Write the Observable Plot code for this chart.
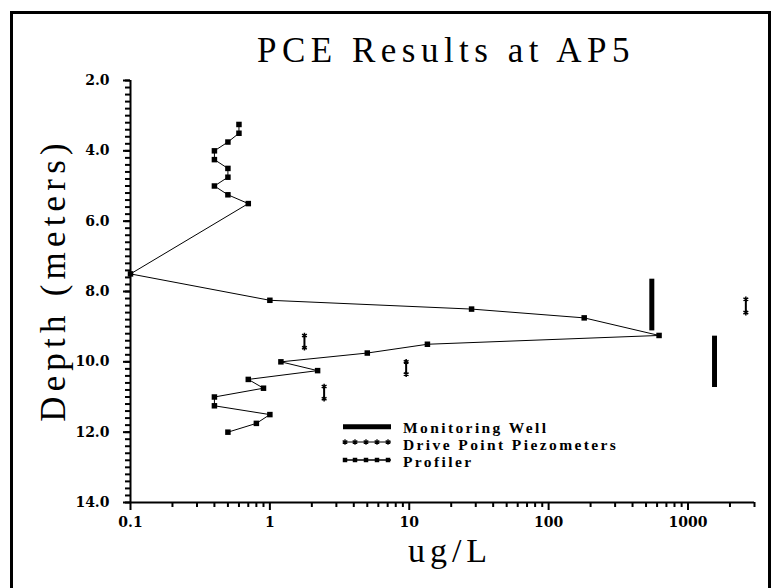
<!DOCTYPE html>
<html>
<head>
<meta charset="utf-8">
<script src="https://cdn.jsdelivr.net/npm/d3@7"></script>
<script src="https://cdn.jsdelivr.net/npm/@observablehq/plot@0.6"></script>
<style>
  html, body { margin: 0; padding: 0; background: #fff; }
  body { width: 773px; height: 588px; overflow: hidden; position: relative; }
  #frame { position: absolute; left: 10px; top: 11px; width: 761px; height: 620px; border: 3px solid #000; box-sizing: border-box; }
  #chart { position: absolute; left: 0; top: 0; }
</style>
</head>
<body>
<div id="frame"></div>
<div id="chart"></div>
<script>
// ---- Data ----
const profilerDepth = [3.25, 3.5, 3.75, 4.0, 4.25, 4.5, 4.75, 5.0, 5.25, 5.5, 7.5, 8.25, 8.5, 8.75, 9.25, 9.5, 9.75, 10.0, 10.25, 10.5, 10.75, 11.0, 11.25, 11.5, 11.75, 12.0];
const profilerConc  = [0.6, 0.6, 0.5, 0.4, 0.4, 0.5, 0.5, 0.4, 0.5, 0.7, 0.1, 1.0, 28, 180, 620, 13.5, 5, 1.2, 2.2, 0.7, 0.9, 0.4, 0.4, 1.0, 0.8, 0.5];

const piezoConc   = [1.77, 9.5, 2.45, 2600];
const piezoTop    = [9.25, 10.0, 10.7, 8.22];
const piezoBottom = [9.6, 10.35, 11.05, 8.6];

const wellConc   = [550, 1550];
const wellTop    = [7.65, 9.27];
const wellBottom = [9.12, 10.73];

const yTicks = [2, 4, 6, 8, 10, 12, 14];
const yTickLabels = ["2.0", "4.0", "6.0", "8.0", "10.0", "12.0", "14.0"];
const xTicks = [0.1, 1, 10, 100, 1000];
const xTickLabels = ["0.1", "1", "10", "100", "1000"];
const xMinorTicks = [0.2,0.3,0.4,0.5,0.6,0.7,0.8,0.9, 2,3,4,5,6,7,8,9, 20,30,40,50,60,70,80,90, 200,300,400,500,600,700,800,900, 2000,3000];
const yMinorTicks = d3.range(0, 61).map(i => 2 + i * 0.2);

const titleText = "PCE Results at AP5";
const xLabel = "ug/L";
const yLabel = "Depth (meters)";
const legendLabels = ["Monitoring Well", "Drive Point Piezometers", "Profiler"];

// ---- Tables ----
const profiler = profilerDepth.map((d, i) => ({depth: d, conc: profilerConc[i]}));
const piezo = piezoConc.map((c, i) => ({conc: c, top: piezoTop[i], bottom: piezoBottom[i]}));
const wells = wellConc.map((c, i) => ({conc: c, top: wellTop[i], bottom: wellBottom[i]}));

const tickFont = '"DejaVu Serif", serif';

const chart = Plot.plot({
  width: 773,
  height: 588,
  marginLeft: 130,
  marginRight: 19,
  marginTop: 80,
  marginBottom: 86,
  style: {background: "transparent", fontFamily: '"Liberation Serif", serif', color: "#000"},
  x: {type: "log", domain: [0.1, 3000], axis: null},
  y: {domain: [2, 14], reverse: true, axis: null},
  marks: [
    Plot.axisY(yMinorTicks, {tickSize: 5, strokeWidth: 2, tickFormat: () => "", label: null}),
    Plot.axisY(yTicks, {tickSize: 7, strokeWidth: 2, tickPadding: 14, tickFormat: d => yTickLabels[yTicks.indexOf(d)], label: null,
      fontSize: 14, fontWeight: "bold", fontFamily: tickFont}),
    Plot.axisX(xMinorTicks, {tickSize: 5, strokeWidth: 2, tickFormat: () => "", label: null}),
    Plot.axisX(xTicks, {tickSize: 8, strokeWidth: 2, tickPadding: 7, tickFormat: d => xTickLabels[xTicks.indexOf(d)], label: null,
      fontSize: 14, fontWeight: "bold", fontFamily: tickFont}),
    Plot.ruleX([0.1], {strokeWidth: 2}),
    Plot.ruleY([14], {strokeWidth: 2}),
    Plot.line(profiler, {x: "conc", y: "depth", stroke: "#000", strokeWidth: 1}),
    Plot.dot(profiler, {x: "conc", y: "depth", symbol: "square", r: 3.1, fill: "#000"}),
    Plot.ruleX(piezo, {x: "conc", y1: "top", y2: "bottom", stroke: "#000", strokeWidth: 2}),
    Plot.dot(piezo, {x: "conc", y: "top", symbol: "asterisk", r: 2.6, stroke: "#000", strokeWidth: 1.5}),
    Plot.dot(piezo, {x: "conc", y: "bottom", symbol: "asterisk", r: 2.6, stroke: "#000", strokeWidth: 1.5}),
    Plot.ruleX(wells, {x: "conc", y1: "top", y2: "bottom", stroke: "#000", strokeWidth: 5})
  ]
});
document.getElementById("chart").appendChild(chart);

// ---- Title, axis labels and legend as real SVG text ----
const svg = d3.select(chart.tagName.toLowerCase() === "svg" ? chart : chart.querySelector("svg"));
const serif = '"Liberation Serif", "Times New Roman", serif';

svg.append("text").text(titleText)
  .attr("x", 446).attr("y", 62).attr("text-anchor", "middle")
  .attr("font-family", serif).attr("font-size", 35).attr("letter-spacing", 5.5).attr("fill", "#000");

svg.append("text").text(xLabel)
  .attr("x", 450).attr("y", 562).attr("text-anchor", "middle")
  .attr("font-family", serif).attr("font-size", 34).attr("letter-spacing", 5).attr("fill", "#000");

svg.append("text").text(yLabel)
  .attr("transform", "translate(65,280) rotate(-90)").attr("text-anchor", "middle")
  .attr("font-family", serif).attr("font-size", 35).attr("letter-spacing", 5.2).attr("fill", "#000");

// legend
const lg = svg.append("g").attr("text-anchor", "start");
const lx0 = 343, lx1 = 391;
const rows = [426.7, 442, 460];
lg.append("line").attr("x1", lx0).attr("x2", lx1).attr("y1", rows[0]).attr("y2", rows[0]).attr("stroke", "#000").attr("stroke-width", 5);
lg.append("line").attr("x1", lx0).attr("x2", lx1).attr("y1", rows[1]).attr("y2", rows[1]).attr("stroke", "#000").attr("stroke-width", 1);
lg.append("line").attr("x1", lx0).attr("x2", lx1).attr("y1", rows[2]).attr("y2", rows[2]).attr("stroke", "#000").attr("stroke-width", 1.5);
const star = d3.symbol(d3.symbolAsterisk, 20)();
const sq = d3.symbol(d3.symbolSquare, 20)();
[345, 355, 366, 377, 388].forEach(x => {
  lg.append("path").attr("d", star).attr("transform", `translate(${x},${rows[1]})`).attr("stroke", "#000").attr("stroke-width", 1.3).attr("fill", "none");
  lg.append("path").attr("d", sq).attr("transform", `translate(${x},${rows[2]})`).attr("fill", "#000");
});
const baselines = [432.5, 449.8, 467.1];
legendLabels.forEach((t, i) => {
  lg.append("text").text(t).attr("x", 403).attr("y", baselines[i]).attr("text-anchor", "start")
    .attr("font-family", serif).attr("font-size", 15.5).attr("font-weight", "bold").attr("letter-spacing", 2.4).attr("fill", "#000");
});
</script>
</body>
</html>
